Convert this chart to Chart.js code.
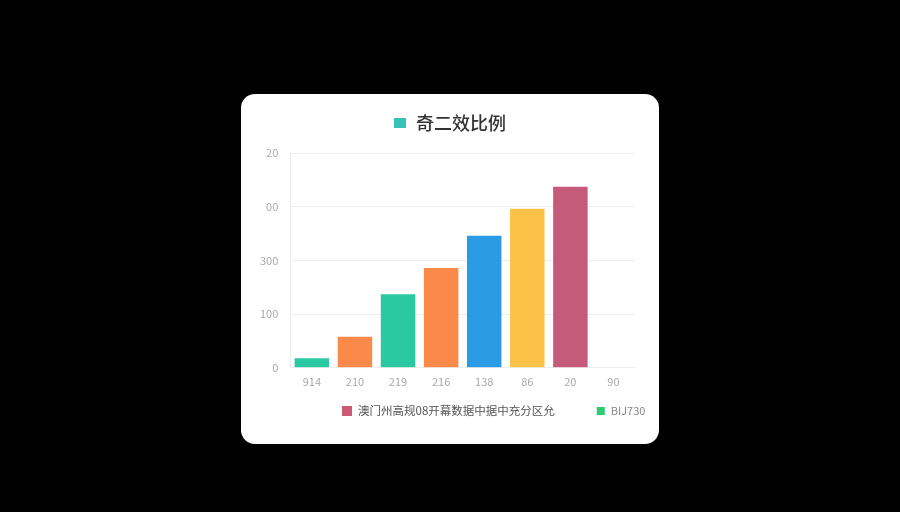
<!DOCTYPE html>
<html lang="zh">
<head>
    <meta charset="UTF-8">
    <title>奇二效比例</title>
    <script src="https://cdn.jsdelivr.net/npm/chart.js"></script>
    <style>
        body {
            margin: 0;
            background: #000;
            width: 900px;
            height: 512px;
            overflow: hidden;
        }

        /* white card holding the chart */
        .card {
            position: absolute;
            left: 241px;
            top: 94px;
            width: 418px;
            height: 350px;
            background: #fff;
            border-radius: 14px;
            overflow: hidden;
        }
    </style>
</head>
<body>

<div class="card">
    <canvas id="barChart" width="418" height="350"></canvas>
</div>

<script>
    const categories = ['914', '210', '219', '216', '138', '86', '20', '90'];
    const values = [18, 58, 137, 186, 246, 296, 337, null];
    const barColors = ['#2bc9a2', '#fb8a4a', '#2bc9a2', '#fb8a4a', '#2b9be6', '#fcc247', '#c65a7b', '#c65a7b'];
    const yTickLabels = ['0', '100', '300', '00', '20'];

    const titleText = '奇二效比例';
    const titleColor = '#37c4b8';
    const legendLabels = ['澳门州高规08开幕数据中据中充分区允', 'BIJ730'];
    const legendColors = ['#cc5a77', '#2ecc71'];

    Chart.defaults.font.family = "'Noto Sans CJK SC', 'Noto Sans', sans-serif";

    // title with a small coloured square in front of it
    const swatchTitle = {
        id: 'swatchTitle',
        afterDraw(chart) {
            const ctx = chart.ctx;
            ctx.save();
            ctx.font = "500 18px 'Noto Sans CJK SC', sans-serif";
            const textWidth = ctx.measureText(titleText).width;
            const box = 12, gap = 10;
            const startX = chart.width / 2 - (box + gap + textWidth) / 2;
            const y = 29;
            ctx.fillStyle = titleColor;
            ctx.fillRect(startX, y - 5, box, 10);
            ctx.fillStyle = '#333';
            ctx.textBaseline = 'middle';
            ctx.fillText(titleText, startX + box + gap, y);
            ctx.restore();
        }
    };

    // bottom legend, drawn by hand so the spacing can follow the picture
    const bottomLegend = {
        id: 'bottomLegend',
        afterDraw(chart) {
            const ctx = chart.ctx;
            ctx.save();
            ctx.textBaseline = 'middle';
            const y = 317;
            let x = 101;
            legendLabels.forEach((label, i) => {
                const box = i === 0 ? 10 : 8;
                ctx.fillStyle = legendColors[i];
                ctx.fillRect(x, y - box / 2, box, box);
                x += box + 6;
                ctx.font = (i === 0 ? 11.5 : 11) + "px 'Noto Sans CJK SC', sans-serif";
                ctx.fillStyle = i === 0 ? '#555' : '#888';
                ctx.fillText(label, x, y);
                x += ctx.measureText(label).width + 42;
            });
            ctx.restore();
        }
    };

    new Chart(document.getElementById('barChart').getContext('2d'), {
        type: 'bar',
        data: {
            labels: categories,
            datasets: [
                { label: titleText, data: values, backgroundColor: barColors }
            ]
        },
        options: {
            responsive: false,
            animation: false,
            layout: { padding: { top: 59, left: 7, right: 24, bottom: 49 } },
            datasets: { bar: { categoryPercentage: 0.8, barPercentage: 1.0 } },
            scales: {
                x: {
                    grid: { display: false, drawTicks: false },
                    border: { color: '#eeeeee' },
                    ticks: { color: '#a8a8a8', font: { size: 11 }, padding: 7 }
                },
                y: {
                    min: 0,
                    max: 400,
                    grid: { color: '#eeeeee', drawTicks: false },
                    border: { color: '#eeeeee' },
                    ticks: {
                        stepSize: 100,
                        color: '#a8a8a8',
                        font: { size: 11 },
                        padding: 12,
                        callback: (v) => yTickLabels[v / 100]
                    }
                }
            },
            plugins: {
                title: { display: false },
                tooltip: { enabled: false },
                legend: { display: false }
            }
        },
        plugins: [swatchTitle, bottomLegend]
    });
</script>

</body>
</html>
